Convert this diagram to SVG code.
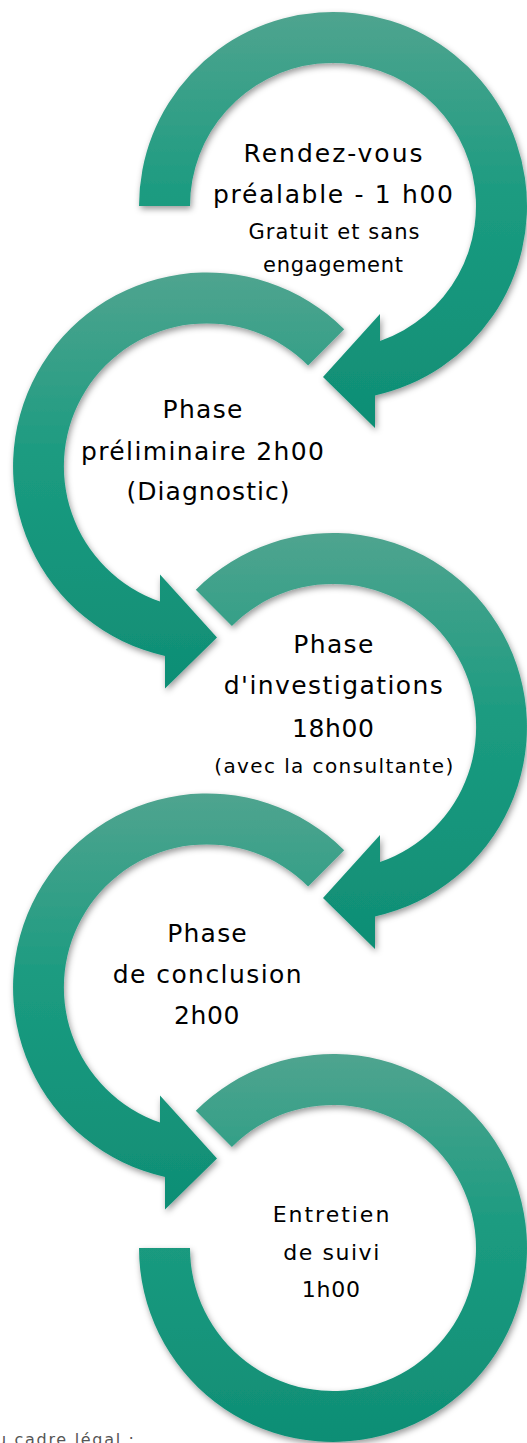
<svg xmlns="http://www.w3.org/2000/svg" width="527" height="1443" viewBox="0 0 527 1443">
  <defs>
    <linearGradient id="g" x1="0" y1="0" x2="0" y2="1">
      <stop offset="0" stop-color="#4fa48f"/>
      <stop offset="0.45" stop-color="#1b9b80"/>
      <stop offset="1" stop-color="#0f8e75"/>
    </linearGradient>
    <filter id="sh" x="-10%" y="-10%" width="125%" height="125%">
      <feDropShadow dx="1.5" dy="3" stdDeviation="3" flood-color="#000" flood-opacity="0.4"/>
    </filter>
    <style>
      .arr { fill: url(#g); filter: url(#sh); }
      .t { font-family: "DejaVu Sans", "Liberation Sans", sans-serif; fill: #000; text-anchor: middle; }
      .big { font-size: 25px; }
      .mid { font-size: 22px; }
      .sm { font-size: 21px; }
      .xs { font-size: 20px; }
      .foot { font-family: "DejaVu Sans", "Open Sans", sans-serif; font-size: 16px; fill: #555; }
    </style>
  </defs>
  <rect width="527" height="1443" fill="#fff"/>

  <g id="node1">
    <path class="arr" d="M 139 206 A 194 194 0 1 1 375 395.4 L 375 428 L 323 377 L 380 314 L 380 341 A 143 143 0 1 0 190 206 Z"/>
    <text class="t big" x="333" y="162" textLength="179" lengthAdjust="spacing">Rendez-vous</text>
    <text class="t big" x="333" y="203" textLength="240" lengthAdjust="spacing">préalable - 1 h00</text>
    <text class="t sm" x="334" y="239" textLength="171" lengthAdjust="spacing">Gratuit et sans</text>
    <text class="t sm" x="333" y="272" textLength="140" lengthAdjust="spacing">engagement</text>
  </g>

  <g id="node2">
    <path class="arr" d="M 344.2 329.3 A 194 194 0 1 0 165 655.9 L 165 688.5 L 217 637.5 L 160 574.5 L 160 601.5 A 143 143 0 1 1 308.1 365.4 Z"/>
    <text class="t big" x="202.5" y="418" textLength="80" lengthAdjust="spacing">Phase</text>
    <text class="t big" x="202.5" y="460" textLength="243" lengthAdjust="spacing">préliminaire 2h00</text>
    <text class="t big" x="208" y="500" textLength="163" lengthAdjust="spacing">(Diagnostic)</text>
  </g>

  <g id="node3">
    <path class="arr" d="M 195.8 589.8 A 194 194 0 1 1 375 916.4 L 375 949 L 323 898 L 380 835 L 380 862 A 143 143 0 1 0 231.9 625.9 Z"/>
    <text class="t big" x="333.3" y="653" textLength="80" lengthAdjust="spacing">Phase</text>
    <text class="t big" x="333.3" y="694" textLength="219" lengthAdjust="spacing">d'investigations</text>
    <text class="t big" x="333" y="736.5" textLength="82" lengthAdjust="spacing">18h00</text>
    <text class="t xs" x="333.7" y="773" textLength="239" lengthAdjust="spacing">(avec la consultante)</text>
  </g>

  <g id="node4">
    <path class="arr" d="M 344.2 850.3 A 194 194 0 1 0 165 1176.9 L 165 1209.5 L 217 1158.5 L 160 1095.5 L 160 1122.5 A 143 143 0 1 1 308.1 886.4 Z"/>
    <text class="t big" x="207" y="942" textLength="79.5" lengthAdjust="spacing">Phase</text>
    <text class="t big" x="207.2" y="983" textLength="189" lengthAdjust="spacing">de conclusion</text>
    <text class="t big" x="206.7" y="1024" textLength="65.3" lengthAdjust="spacing">2h00</text>
  </g>

  <g id="node5">
    <path class="arr" d="M 139 1248 A 194 194 0 1 0 195.8 1110.8 L 231.9 1146.9 A 143 143 0 1 1 190 1248 Z"/>
    <text class="t mid" x="331" y="1221.5" textLength="116.7" lengthAdjust="spacing">Entretien</text>
    <text class="t mid" x="331.3" y="1260" textLength="96" lengthAdjust="spacing">de suivi</text>
    <text class="t mid" x="330.8" y="1296.5" textLength="58.3" lengthAdjust="spacing">1h00</text>
  </g>

  <text id="footer" class="foot" x="-4" y="1445" textLength="138" lengthAdjust="spacing">u cadre légal :</text>
</svg>
